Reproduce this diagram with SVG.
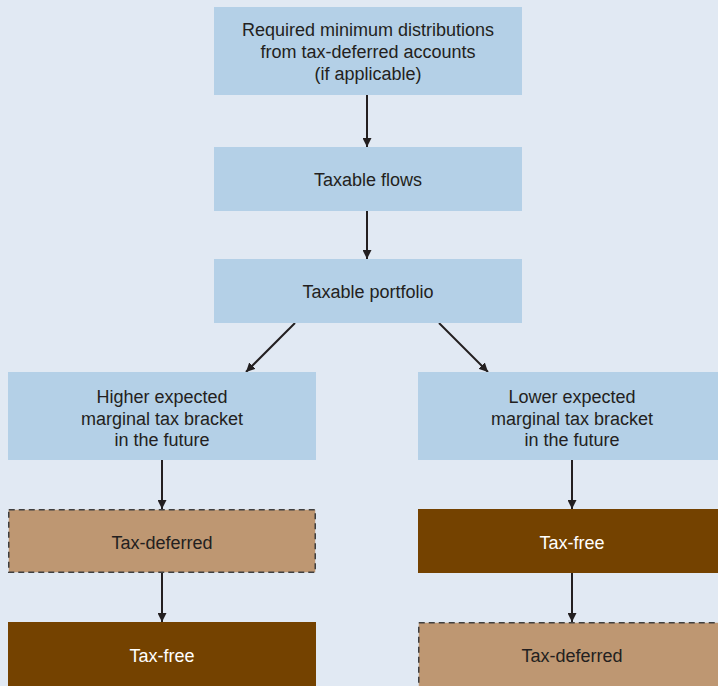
<svg xmlns="http://www.w3.org/2000/svg" width="718" height="686" viewBox="0 0 718 686">
<defs>
<style>
.blue{fill:#b4d0e7}
.tan{fill:#be9772;stroke:#3f3f3f;stroke-width:1.5;stroke-dasharray:6 4}
.brown{fill:#744200}
text{font-family:"Liberation Sans",Arial,sans-serif;font-size:18px;text-anchor:middle;fill:#231f20}
.w{fill:#ffffff}
.c{stroke:#231f20;stroke-width:2;fill:none;marker-end:url(#ah)}
</style>
<marker id="ah" viewBox="0 0 10 10" refX="10" refY="5" markerWidth="4.5" markerHeight="4.5" orient="auto" markerUnits="strokeWidth">
<path d="M0,0 L10,5 L0,10 Z" fill="#231f20"/>
</marker>
</defs>
<rect width="718" height="686" fill="#e1e9f3"/>
<g id="connectors">
<line class="c" x1="367" y1="95" x2="367" y2="147"/>
<line class="c" x1="367" y1="211" x2="367" y2="259"/>
<line class="c" x1="295" y1="323" x2="246" y2="372"/>
<line class="c" x1="439" y1="323" x2="488" y2="372"/>
<line class="c" x1="162" y1="460" x2="162" y2="509"/>
<line class="c" x1="162" y1="573" x2="162" y2="622"/>
<line class="c" x1="572" y1="460" x2="572" y2="509"/>
<line class="c" x1="572" y1="573" x2="572" y2="622"/>
</g>
<g id="rmd">
<rect class="blue" x="214" y="7" width="308" height="88"/>
<text x="368" y="36">Required minimum distributions</text>
<text x="368" y="58">from tax-deferred accounts</text>
<text x="368" y="79.5">(if applicable)</text>
</g>
<g id="taxable-flows">
<rect class="blue" x="214" y="147" width="308" height="64"/>
<text x="368" y="186">Taxable flows</text>
</g>
<g id="taxable-portfolio">
<rect class="blue" x="214" y="259" width="308" height="64"/>
<text x="368" y="298">Taxable portfolio</text>
</g>
<g id="higher">
<rect class="blue" x="8" y="372" width="308" height="88"/>
<text x="162" y="402.5">Higher expected</text>
<text x="162" y="424.5">marginal tax bracket</text>
<text x="162" y="446">in the future</text>
</g>
<g id="lower">
<rect class="blue" x="418" y="372" width="300" height="88"/>
<text x="572" y="402.5">Lower expected</text>
<text x="572" y="424.5">marginal tax bracket</text>
<text x="572" y="446">in the future</text>
</g>
<g id="left-tax-deferred">
<rect class="tan" x="8.75" y="509.75" width="306.5" height="62.5"/>
<text x="162" y="549">Tax-deferred</text>
</g>
<g id="left-tax-free">
<rect class="brown" x="8" y="622" width="308" height="64"/>
<text class="w" x="162" y="661.5">Tax-free</text>
</g>
<g id="right-tax-free">
<rect class="brown" x="418" y="509" width="300" height="64"/>
<text class="w" x="572" y="549">Tax-free</text>
</g>
<g id="right-tax-deferred">
<rect class="tan" x="418.75" y="622.75" width="310" height="70"/>
<text x="572" y="661.5">Tax-deferred</text>
</g>
</svg>
